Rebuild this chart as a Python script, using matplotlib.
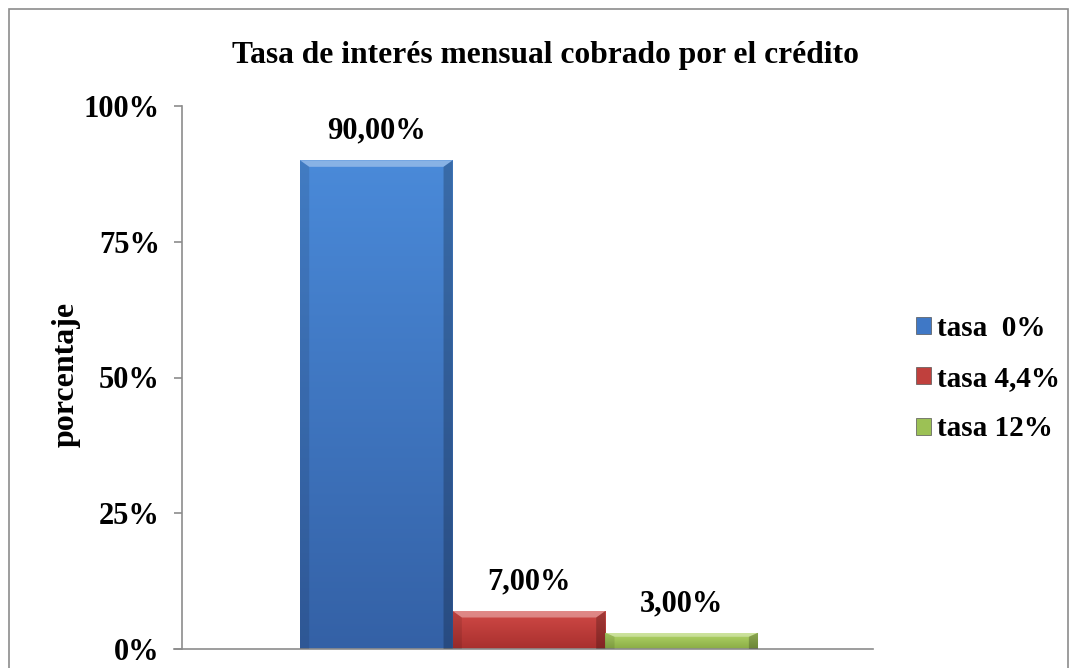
import numpy as np
import matplotlib
matplotlib.use('Agg')
import matplotlib.pyplot as plt
import matplotlib.patches as patches
from matplotlib.colors import LinearSegmentedColormap

# Data
categories = ['tasa  0%', 'tasa 4,4%', 'tasa 12%']
values = [0.90, 0.07, 0.03]
value_labels = ['90,00%', '7,00%', '3,00%']
yticks = [0, 0.25, 0.50, 0.75, 1.0]
ytick_labels = ['0%', '25%', '50%', '75%', '100%']

# Colours: (light top, dark bottom)
colors = [('#4a8ad9', '#3461a6'), ('#d24a47', '#a8302e'), ('#b5d86a', '#8aac45')]
base_colors = ['#3f78c6', '#c0403d', '#9cc155']

plt.rcParams['font.family'] = ['Liberation Serif', 'DejaVu Serif']
plt.rcParams['font.weight'] = 'bold'

fig = plt.figure(figsize=(10.75, 6.68), dpi=100)
ax = fig.add_axes([182 / 1075, 19 / 668, (873 - 182) / 1075, (649 - 106) / 668])

# Outer chart border
border = patches.Rectangle((9 / 1075, -0.05), (1068 - 9) / 1075, (659 + 0.05 * 668) / 668,
                           transform=fig.transFigure, fill=False, edgecolor='#8c8c8c',
                           linewidth=1.2, clip_on=False)
fig.patches.append(border)

x = np.arange(len(values))
bars = ax.bar(x, values, width=1.0, color=base_colors, edgecolor='none', zorder=2)

# Gradient + bevel on each bar
for bar, (c_top, c_bot) in zip(bars, colors):
    x0, y0 = bar.get_x(), bar.get_y()
    w, h = bar.get_width(), bar.get_height()
    cmap = LinearSegmentedColormap.from_list('g', [c_bot, c_top])
    grad = np.linspace(0, 1, 256).reshape(-1, 1)
    im = ax.imshow(grad, extent=(x0, x0 + w, y0, y0 + h), origin='lower',
                   cmap=cmap, aspect='auto', zorder=2.5)
    im.set_clip_path(bar)
    # bevel: light top strip, darker sides
    bw = 0.06 * w
    bh = min(0.012, h * 0.25)
    top = patches.Polygon([(x0, y0 + h), (x0 + w, y0 + h), (x0 + w - bw, y0 + h - bh),
                           (x0 + bw, y0 + h - bh)], closed=True, facecolor='white',
                          alpha=0.35, edgecolor='none', zorder=3)
    ax.add_patch(top)
    left = patches.Polygon([(x0, y0), (x0, y0 + h), (x0 + bw, y0 + h - bh), (x0 + bw, y0)],
                           closed=True, facecolor='black', alpha=0.10, edgecolor='none', zorder=3)
    right = patches.Polygon([(x0 + w, y0), (x0 + w, y0 + h), (x0 + w - bw, y0 + h - bh),
                             (x0 + w - bw, y0)], closed=True, facecolor='black', alpha=0.22,
                            edgecolor='none', zorder=3)
    ax.add_patch(left)
    ax.add_patch(right)

# Value labels
for xi, v, lab in zip(x, values, value_labels):
    ax.annotate(lab, (xi, v), xytext=(0, 21), textcoords='offset points',
                ha='center', va='center', fontsize=22, fontweight='bold')

ax.set_xlim(-1.273, 3.253)
ax.set_ylim(0, 1.0)
ax.set_yticks(yticks)
ax.set_yticklabels(ytick_labels, fontsize=22, fontweight='bold')
ax.set_xticks([])
ax.tick_params(axis='y', length=6, width=1.2, color='#8c8c8c', pad=10)

for s in ['top', 'right']:
    ax.spines[s].set_visible(False)
for s in ['left', 'bottom']:
    ax.spines[s].set_color('#8c8c8c')
    ax.spines[s].set_linewidth(1.2)
ax.spines['bottom'].set_bounds(-1.273 - 0.05, 3.253)

fig.text(66 / 1075, 1 - 374 / 668, 'porcentaje', rotation=90, ha='center', va='center',
         fontsize=23, fontweight='bold')

fig.text(546 / 1075, 1 - 55 / 668, 'Tasa de interés mensual cobrado por el crédito',
         ha='center', va='center', fontsize=22.7, fontweight='bold')

# Legend
handles = [patches.Patch(facecolor=c, edgecolor='#555555', linewidth=0.5) for c in base_colors]
ax.legend(handles, categories, loc='center left', bbox_to_anchor=(1.062, 0.498),
          frameon=False, prop={'size': 21, 'weight': 'bold'}, borderpad=0, borderaxespad=0,
          handlelength=0.52, handleheight=0.52, handletextpad=0.2, labelspacing=0.8)

fig.savefig('out.png', dpi=100)
